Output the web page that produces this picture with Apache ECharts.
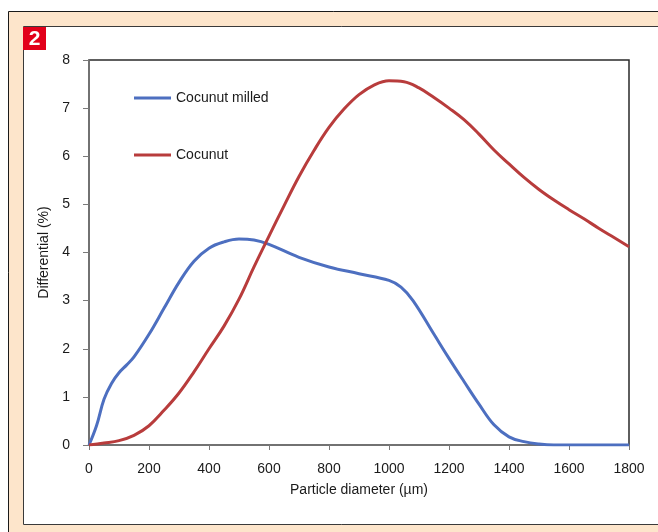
<!DOCTYPE html>
<html>
<head>
<meta charset="utf-8">
<script src="https://cdn.jsdelivr.net/npm/echarts@6/dist/echarts.min.js"></script>
<style>
  html, body { margin: 0; padding: 0; background: #ffffff; }
  #chart { width: 658px; height: 532px; }
</style>
</head>
<body>
<div id="chart"></div>
<script>
// Particle size distributions (differential %, by diameter in µm)
const milledDiameter = [0, 25, 50, 75, 100, 125, 150, 200, 250, 300, 350, 400, 450, 500, 550, 600, 700, 800, 900, 1000, 1040, 1080, 1150, 1200, 1250, 1300, 1350, 1400, 1450, 1500, 1550, 1600, 1700, 1800];
const milledValues   = [0, 0.4, 0.95, 1.28, 1.5, 1.66, 1.83, 2.3, 2.84, 3.38, 3.82, 4.09, 4.22, 4.28, 4.26, 4.17, 3.9, 3.7, 3.56, 3.42, 3.28, 3.0, 2.3, 1.8, 1.32, 0.85, 0.42, 0.17, 0.07, 0.02, 0, 0, 0, 0];

const coconutDiameter = [0, 50, 100, 150, 200, 250, 300, 350, 400, 450, 500, 550, 600, 650, 700, 750, 800, 850, 900, 950, 1000, 1050, 1100, 1150, 1200, 1250, 1300, 1350, 1400, 1450, 1500, 1550, 1600, 1650, 1700, 1750, 1800];
const coconutValues   = [0, 0.04, 0.09, 0.2, 0.4, 0.72, 1.08, 1.52, 2.0, 2.47, 3.03, 3.7, 4.34, 4.97, 5.58, 6.12, 6.6, 6.98, 7.28, 7.48, 7.57, 7.55, 7.42, 7.22, 7.0, 6.76, 6.46, 6.13, 5.84, 5.56, 5.31, 5.09, 4.89, 4.7, 4.5, 4.31, 4.12];

const seriesNames = ['Cocunut milled', 'Cocunut'];
const seriesColors = ['#4d6fc0', '#b83c3c'];

const pairs = (xs, ys) => xs.map((x, i) => [x, ys[i]]);

const FONT = 'Liberation Sans, Arial, sans-serif';
const chart = echarts.init(document.getElementById('chart'));

chart.setOption({
  animation: false,
  backgroundColor: '#ffffff',
  graphic: [
    // peach outer frame and white inner panel
    { type: 'rect', z: -10, shape: { x: 8.5, y: 11.5, width: 700, height: 560 },
      style: { fill: '#fde5cb', stroke: '#1a1a1a', lineWidth: 1 } },
    { type: 'rect', z: -9, shape: { x: 23.5, y: 26.5, width: 700, height: 498 },
      style: { fill: '#ffffff', stroke: '#3a3a3a', lineWidth: 1 } },
    // figure number badge
    { type: 'rect', z: 5, shape: { x: 23, y: 27, width: 23, height: 23 },
      style: { fill: '#e2001a' } },
    { type: 'text', z: 6, x: 34.5, y: 39,
      style: { text: '2', fill: '#ffffff', font: 'bold 21px ' + FONT, align: 'center', verticalAlign: 'middle' } }
  ],
  grid: {
    left: 89, top: 60, right: 29, bottom: 87,
    show: true, borderColor: '#2a2a2a', borderWidth: 1.5, backgroundColor: 'transparent'
  },
  legend: [
    { left: 134, top: 91, padding: 0, itemWidth: 37, itemHeight: 3, icon: 'rect',
      data: [seriesNames[0]], textStyle: { fontFamily: FONT, fontSize: 14, color: '#1a1a1a' } },
    { left: 134, top: 148, padding: 0, itemWidth: 37, itemHeight: 3, icon: 'rect',
      data: [seriesNames[1]], textStyle: { fontFamily: FONT, fontSize: 14, color: '#1a1a1a' } }
  ],
  xAxis: {
    type: 'value', min: 0, max: 1800, interval: 200,
    name: 'Particle diameter (µm)', nameLocation: 'middle', nameGap: 38,
    nameTextStyle: { fontFamily: FONT, fontSize: 14, color: '#1a1a1a' },
    axisLine: { lineStyle: { color: '#7a7a7a', width: 1.5 } },
    axisTick: { show: true, length: 5, lineStyle: { color: '#7a7a7a' } },
    axisLabel: { fontFamily: FONT, fontSize: 14, color: '#1a1a1a', margin: 17, formatter: v => String(v) },
    splitLine: { show: false }
  },
  yAxis: {
    type: 'value', min: 0, max: 8, interval: 1,
    name: 'Differential (%)', nameLocation: 'middle', nameGap: 37,
    nameTextStyle: { fontFamily: FONT, fontSize: 14, color: '#1a1a1a' },
    axisLine: { show: true, lineStyle: { color: '#7a7a7a', width: 1.5 } },
    axisTick: { show: true, length: 6, lineStyle: { color: '#7a7a7a' } },
    axisLabel: { fontFamily: FONT, fontSize: 14, color: '#1a1a1a', margin: 19 },
    splitLine: { show: false }
  },
  series: [
    { name: seriesNames[0], type: 'line', smooth: 0.4, showSymbol: false,
      data: pairs(milledDiameter, milledValues), color: seriesColors[0],
      lineStyle: { width: 3, color: seriesColors[0] } },
    { name: seriesNames[1], type: 'line', smooth: 0.4, showSymbol: false,
      data: pairs(coconutDiameter, coconutValues), color: seriesColors[1],
      lineStyle: { width: 3, color: seriesColors[1] } }
  ]
});
</script>
</body>
</html>
